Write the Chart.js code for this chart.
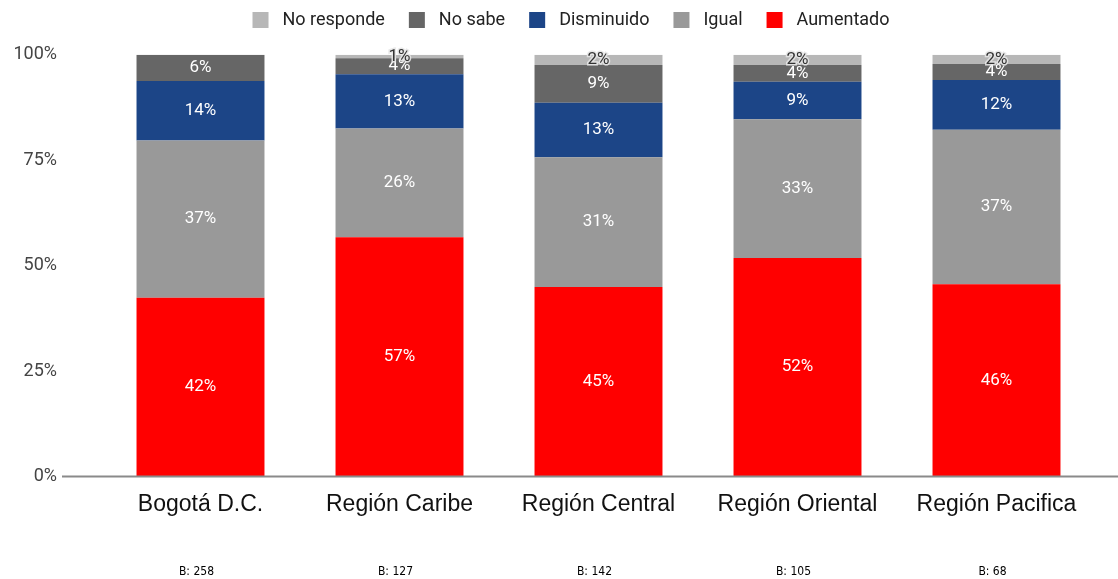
<!DOCTYPE html>
<html>
<head>
<meta charset="utf-8">
<script src="https://cdn.jsdelivr.net/npm/chart.js@4"></script>
<style>
  html, body { margin: 0; padding: 0; background: #fff; }
  #wrap { width: 1118px; height: 579px; position: relative; }
</style>
</head>
<body>
<div id="wrap"><canvas id="main-chart"></canvas></div>
<script>
// data (percent of respondents)
const regions = ["Bogotá D.C.", "Región Caribe", "Región Central", "Región Oriental", "Región Pacifica"];
const baseCounts = [258, 127, 142, 105, 68];
const aumentado = [42.4, 56.7, 44.9, 51.8, 45.6];
const igual = [37.3, 25.8, 30.8, 32.9, 36.6];
const disminuido = [14.1, 12.9, 12.9, 8.9, 11.8];
const noSabe = [6.2, 3.8, 9.0, 4.0, 3.8];
const noResponde = [0, 0.8, 2.4, 2.4, 2.2];
const yTicks = [0, 25, 50, 75, 100];

// segment labels in the middle of each piece
const segmentLabels = {
  id: "segmentLabels",
  afterDatasetsDraw(chart) {
    const c = chart.ctx;
    c.save();
    c.font = "17px Roboto";
    c.textAlign = "center";
    c.textBaseline = "middle";
    chart.data.datasets.forEach(function (ds, i) {
      const meta = chart.getDatasetMeta(i);
      meta.data.forEach(function (bar, j) {
        const v = ds.data[j];
        if (v < 0.5) return;
        const txt = Math.round(v) + "%";
        const y = (bar.y + bar.base) / 2;
        if (ds.label == "No responde") {
          c.lineWidth = 3;
          c.strokeStyle = "rgba(230,230,230,0.9)";
          c.strokeText(txt, bar.x, y);
          c.fillStyle = "#333";
        } else {
          c.fillStyle = "#fff";
        }
        c.fillText(txt, bar.x, y);
      });
    });
    c.restore();
  },
};

// legend row on top (built from the datasets, last one first)
const topLegend = {
  id: "topLegend",
  afterDraw(chart) {
    const c = chart.ctx;
    const items = chart.data.datasets.slice().reverse();
    c.save();
    c.font = "18px Roboto";
    c.textBaseline = "middle";
    let total = 0;
    items.forEach(function (ds, k) {
      total += 16 + 14 + c.measureText(ds.label).width + (k < items.length - 1 ? 24 : 0);
    });
    let x = 571 - total / 2;
    const y = 20;
    items.forEach(function (ds) {
      c.fillStyle = ds.backgroundColor;
      c.fillRect(x, y - 8, 16, 16);
      x += 30;
      c.fillStyle = "#222";
      c.fillText(ds.label, x, y);
      x += c.measureText(ds.label).width + 24;
    });
    c.restore();
  },
};

// baseline across the plot + sample sizes under the categories
const extras = {
  id: "extras",
  afterDraw(chart) {
    const c = chart.ctx;
    const y0 = chart.scales.y.getPixelForValue(0);
    c.save();
    c.strokeStyle = "#8a8a8a";
    c.lineWidth = 2;
    c.beginPath();
    c.moveTo(62, y0);
    c.lineTo(chart.width, y0);
    c.stroke();
    c.fillStyle = "#000";
    c.font = "12px 'DejaVu Sans Condensed', 'Liberation Sans Narrow', sans-serif";
    c.textAlign = "center";
    c.textBaseline = "middle";
    baseCounts.forEach(function (n, j) {
      const x = chart.scales.x.getPixelForValue(j);
      c.fillText("B: " + n, x - 4, 572);
    });
    c.restore();
  },
};

const ctx = document.getElementById("main-chart");
new Chart(ctx, {
  type: "bar",
  data: {
    labels: regions,
    datasets: [
      { label: "Aumentado", data: aumentado, backgroundColor: "#ff0000" },
      { label: "Igual", data: igual, backgroundColor: "#999999" },
      { label: "Disminuido", data: disminuido, backgroundColor: "#1c4587" },
      { label: "No sabe", data: noSabe, backgroundColor: "#666666" },
      { label: "No responde", data: noResponde, backgroundColor: "#b7b7b7" },
    ],
  },
  options: {
    responsive: true,
    maintainAspectRatio: false,
    animation: false,
    layout: { padding: { left: 12, right: 22, top: 51, bottom: 47 } },
    datasets: { bar: { categoryPercentage: 1, barPercentage: 0.643, borderWidth: 0 } },
    plugins: {
      tooltip: { enabled: false },
      legend: { display: false },
    },
    scales: {
      x: {
        stacked: true,
        grid: { display: false, drawTicks: false },
        border: { display: false },
        ticks: { color: "#111", padding: 14, font: { family: "'Liberation Sans', Arial", size: 23 } },
      },
      y: {
        stacked: true,
        min: 0,
        max: 100,
        afterBuildTicks: function (axis) {
          axis.ticks = yTicks.map(function (v) { return { value: v }; });
        },
        afterFit: function (axis) { axis.width = 89; },
        grid: { display: false, drawTicks: false },
        border: { display: false },
        ticks: {
          color: "#444",
          padding: 44,
          font: { family: "Roboto", size: 18 },
          callback: function (v) { return v + "%"; },
        },
      },
    },
  },
  plugins: [segmentLabels, topLegend, extras],
});
</script>
</body>
</html>
